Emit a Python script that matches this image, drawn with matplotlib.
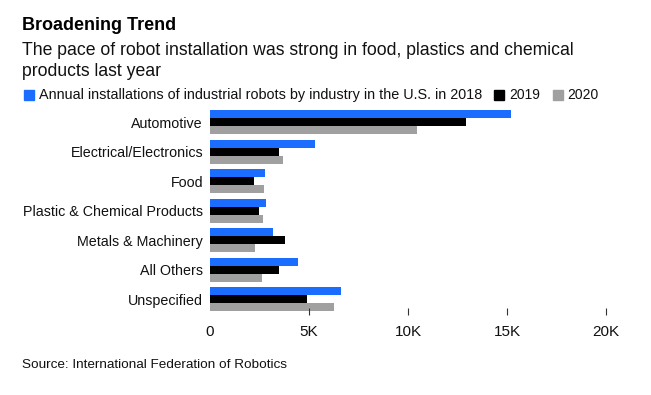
import matplotlib
matplotlib.use("Agg")
import matplotlib.pyplot as plt
import numpy as np

categories = ["Automotive", "Electrical/Electronics", "Food", "Plastic & Chemical Products",
              "Metals & Machinery", "All Others", "Unspecified"]
v2018 = [15200, 5280, 2760, 2810, 3160, 4420, 6590]
v2019 = [12940, 3460, 2200, 2450, 3760, 3460, 4920]
v2020 = [10470, 3660, 2710, 2660, 2250, 2600, 6280]
years = ["Annual installations of industrial robots by industry in the U.S. in 2018", "2019", "2020"]
colors = ["#1a6dff", "#000000", "#a0a0a0"]
xticks = [0, 5000, 10000, 15000, 20000]
xticklabels = ["0", "5K", "10K", "15K", "20K"]

plt.rcParams['font.family'] = ['Liberation Sans', 'DejaVu Sans']

W, H = 651, 395
fig = plt.figure(figsize=(W / 100, H / 100), dpi=100)

def fx(px):
    return px / W

def fy(py):
    return 1 - py / H

ax_left, ax_right, ax_top, ax_bot = 210, 606.3, 108, 315
ax = fig.add_axes([fx(ax_left), fy(ax_bot), fx(ax_right - ax_left), (ax_bot - ax_top) / H])

y = np.arange(len(categories))
bh = 0.271
for k, (vals, c) in enumerate(zip([v2018, v2019, v2020], colors)):
    ax.barh(y + (k - 1) * bh, vals, height=bh, color=c, edgecolor='none')

ax.set_xlim(0, 20000)
ax.set_ylim(6.54, -0.475)
ax.set_yticks(y)
ax.set_yticklabels(categories, fontsize=10.3, color='#111111')
ax.tick_params(axis='y', length=0, pad=5)
ax.set_xticks(xticks)
ax.set_xticklabels(xticklabels, fontsize=11, color='#111111')
ax.tick_params(axis='x', direction='in', length=5, width=0.8, color='#333333', pad=7.5)
xt = ax.xaxis.get_major_ticks()
xt[0].tick1line.set_visible(False)
for s in ax.spines.values():
    s.set_visible(False)

fig.text(fx(22), fy(26), "Broadening Trend", fontsize=13, fontweight='bold', va='center', ha='left',
         color='#000000')
fig.text(fx(22), fy(50.5), "The pace of robot installation was strong in food, plastics and chemical",
         fontsize=12.7, va='center', ha='left', color='#111111')
fig.text(fx(22), fy(72), "products last year", fontsize=12.7, va='center', ha='left', color='#111111')

# legend
leg_y = 95
items = [(24, 39, years[0], colors[0], 10.4), (494, 509, years[1], colors[1], 10),
         (552.5, 567, years[2], colors[2], 10)]
for sx, tx, label, c, fs in items:
    fig.patches.append(plt.Rectangle((fx(sx), fy(leg_y + 4.7)), fx(10), 9.5 / H, color=c,
                                     transform=fig.transFigure, figure=fig))
    fig.text(fx(tx), fy(leg_y), label, fontsize=fs, va='center', ha='left', color='#111111')

fig.text(fx(22), fy(365), "Source: International Federation of Robotics", fontsize=9.7,
         va='center', ha='left', color='#111111')

fig.savefig("out.png", dpi=100, facecolor='white')
